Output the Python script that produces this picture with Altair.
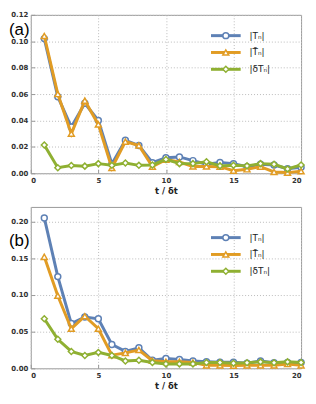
import altair as alt
import pandas as pd

t = list(range(1, 21))
names = ["|Tₙ|", "|T̄ₙ|", "|δTₙ|"]
colors = ["#5E81B5", "#E19C24", "#8FB032"]
shapes = ["circle", "triangle-up", "diamond"]

a_T = [0.102, 0.058, 0.035, 0.053, 0.040, 0.007, 0.025, 0.021, 0.008, 0.0118,
       0.0124, 0.0096, 0.0068, 0.0082, 0.0073, 0.0050, 0.0068, 0.0063, 0.0035, 0.0045]
a_Tb = [0.104, 0.060, 0.030, 0.055, 0.037, 0.004, 0.024, 0.021, 0.005, 0.0103,
        0.0085, 0.0052, 0.0052, 0.0050, 0.0020, 0.0030, 0.0050, 0.0010, 0.0005, 0.0015]
a_dT = [0.0214, 0.0042, 0.0059, 0.0054, 0.0073, 0.0060, 0.0078, 0.0060, 0.0063, 0.0105,
        0.0073, 0.0073, 0.0087, 0.0056, 0.0060, 0.0056, 0.0073, 0.0068, 0.0033, 0.0063]

b_T = [0.205, 0.125, 0.061, 0.070, 0.0675, 0.0325, 0.023, 0.028, 0.011, 0.0133,
       0.012, 0.010, 0.009, 0.0083, 0.0083, 0.007, 0.010, 0.0075, 0.008, 0.008]
b_Tb = [0.152, 0.099, 0.054, 0.071, 0.054, 0.018, 0.021, 0.025, 0.0104, 0.009,
        0.009, 0.008, 0.004, 0.004, 0.0037, 0.004, 0.004, 0.004, 0.006, 0.004]
b_dT = [0.0675, 0.0396, 0.023, 0.0175, 0.0217, 0.0175, 0.010, 0.011, 0.008, 0.006,
        0.006, 0.006, 0.008, 0.008, 0.007, 0.0075, 0.0088, 0.0075, 0.0088, 0.008]

x_ticks = [0, 5, 10, 15, 20]
W = 273
TK = 4


def panel(series, ymax, ystep, h, label, leg_y, lab_y):
    xenc = alt.X("t:Q", scale=alt.Scale(domain=[0, 20], nice=False, zero=False),
                 axis=alt.Axis(values=x_ticks, title="t / δt", grid=True,
                               gridDash=[1, 2], gridColor="#bbbbbb",
                               domain=False, ticks=True, tickSize=TK,
                               offset=-TK, tickColor="#999999", labelPadding=3,
                               labelFontSize=7, labelFontWeight="bold",
                               labelColor="#333333", titleFontSize=8.5,
                               titleFontWeight="bold", titlePadding=3,
                               titleColor="#222222", labelFont="DejaVu Sans",
                               titleFont="DejaVu Sans"))
    yvals = [round(i * ystep, 4) for i in range(int(round(ymax / ystep)) + 1)]
    yenc = alt.Y("v:Q", scale=alt.Scale(domain=[0, ymax], nice=False),
                 axis=alt.Axis(values=yvals, format=".2f", title=None, grid=True,
                               gridDash=[1, 2], gridColor="#bbbbbb",
                               domain=False, ticks=True, tickSize=TK,
                               offset=-TK, tickColor="#999999", labelPadding=3,
                               labelFontSize=7, labelFontWeight="bold",
                               labelColor="#333333", labelFont="DejaVu Sans"))
    layers = []
    for vals, name, col, shp in zip(series, names, colors, shapes):
        df = pd.DataFrame({"t": t, "v": vals})
        base = alt.Chart(df).encode(x=xenc, y=yenc)
        layers.append(base.mark_line(color=col, strokeWidth=3))
        layers.append(base.mark_point(shape=shp, color=col, fill="white",
                                      filled=True, stroke=col, strokeWidth=1.5,
                                      size=36, opacity=1))
    for i, (name, col, shp) in enumerate(zip(names, colors, shapes)):
        yy = leg_y + i * 17
        d = alt.Data(values=[{"label": name}])
        layers.append(alt.Chart(d).mark_rule(color=col, strokeWidth=3).encode(
            x=alt.value(182), x2=alt.value(212), y=alt.value(yy)))
        layers.append(alt.Chart(d).mark_point(shape=shp, color=col, fill="white",
                                              filled=True, stroke=col, strokeWidth=1.5,
                                              size=36, opacity=1).encode(
            x=alt.value(197), y=alt.value(yy)))
        layers.append(alt.Chart(d).mark_text(align="left", baseline="middle",
                                             fontSize=9, font="DejaVu Sans",
                                             color="#222222").encode(
            x=alt.value(221), y=alt.value(yy), text="label:N"))
    lab = alt.Chart(alt.Data(values=[{"l": label}])).mark_text(
        align="left", baseline="middle", fontSize=17, font="Liberation Sans",
        color="black").encode(x=alt.value(-22), y=alt.value(lab_y), text="l:N")
    layers.append(lab)
    return alt.layer(*layers).properties(width=W, height=h)


pa = panel([a_T, a_Tb, a_dT], 0.12, 0.02, 160, "(a)", 21, 15)
pb = panel([b_T, b_Tb, b_dT], 0.22, 0.05, 163, "(b)", 31, 34)

chart = alt.vconcat(pa, pb, spacing=11).properties(
    padding={"left": 0, "top": 0, "right": 0, "bottom": 0}
).configure_view(stroke="#999999", strokeWidth=1)

chart.save("out.html", embed_options={"renderer": "svg", "actions": False})
